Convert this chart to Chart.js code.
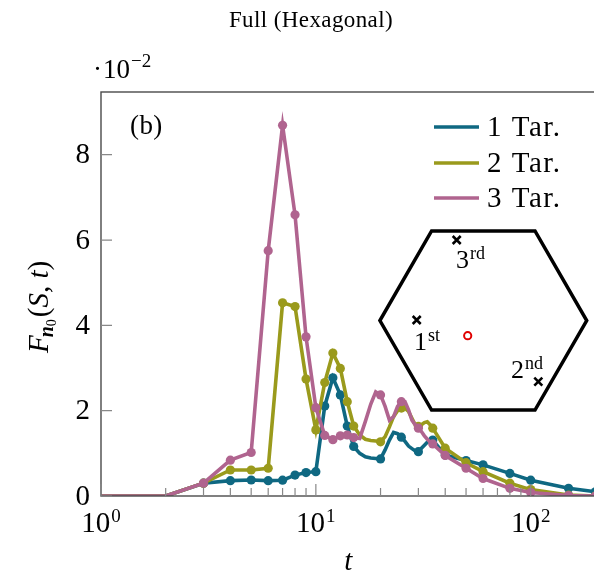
<!DOCTYPE html>
<html>
<head>
<meta charset="utf-8">
<script src="https://cdn.jsdelivr.net/npm/chart.js@4.4.0/dist/chart.umd.min.js"></script>
<style>
  html, body { margin: 0; padding: 0; background: #fff; overflow: hidden; }
  #wrap { width: 594px; height: 575px; overflow: hidden; }
</style>
</head>
<body>
<div id="wrap"><canvas id="chart" width="600" height="575"></canvas></div>
<script>
// time steps (log axis)
const tVals = [1,2,3,4,5,6,7,8,9,10,11,12,13,14,15,16,17,18,19,20,21,22,23,24,25,26,27,28,29,30,31,32,33,34,35,40,50,60,80,100,150,200];
// steps that carry a marker
const markedT = [3,4,5,6,7,8,9,10,11,12,13,14,15,20,25,30,35,40,50,60,80,100,150,200];

// values in units of 1e-2
const tar1 = [0,0,0.30,0.36,0.375,0.36,0.37,0.49,0.55,0.57,2.11,2.77,2.37,1.64,
  1.16,1.0,0.92,0.89,0.88,0.87,1.08,1.31,1.49,1.46,1.38,1.28,1.17,1.11,1.06,1.04,1.12,1.19,1.26,1.29,1.31,
  0.96,0.83,0.73,0.53,0.37,0.18,0.1];
const tar2 = [0,0,0.30,0.61,0.61,0.65,4.53,4.44,2.74,1.55,2.66,3.35,2.99,2.21,
  1.64,1.43,1.33,1.30,1.29,1.27,1.39,1.62,1.86,2.0,2.06,2.06,1.98,1.82,1.67,1.63,1.67,1.72,1.74,1.67,1.59,
  1.12,0.78,0.57,0.30,0.15,0.02,0];
const tar3 = [0,0,0.30,0.84,1.02,5.75,8.69,6.59,3.73,2.07,1.42,1.32,1.41,1.43,
  1.37,1.35,1.75,2.15,2.44,2.37,2.1,1.78,1.86,2.1,2.21,2.21,2.02,1.78,1.67,1.59,1.51,1.41,1.33,1.27,1.22,
  0.95,0.65,0.41,0.18,0.08,0.01,0];

const labels = ['1 Tar.', '2 Tar.', '3 Tar.'];
const colors = ['#0f6882', '#9a9a1c', '#b0648f'];
const yTicks = [0, 2, 4, 6, 8];
const xDecades = [0, 1, 2];

const SERIF = '"Liberation Serif", "DejaVu Serif", serif';

function series(vals, i) {
  return {
    label: labels[i],
    data: tVals.map((t, k) => ({ x: t, y: vals[k] })),
    borderColor: colors[i],
    backgroundColor: colors[i],
    borderWidth: 3.6,
    pointRadius: c => markedT.includes(tVals[c.dataIndex]) ? 4.6 : 0,
    pointBorderWidth: 0,
    tension: 0,
    order: 2 - i
  };
}

// axes decorations, ticks, labels, legend and the hexagon inset
const extras = {
  id: 'extras',
  afterDraw(chart) {
    const ctx = chart.ctx;
    const a = chart.chartArea;
    const x = chart.scales.x, y = chart.scales.y;
    ctx.save();

    // frame
    ctx.strokeStyle = '#4a4a4a';
    ctx.lineWidth = 1.4;
    ctx.strokeRect(a.left, a.top, a.right - a.left, a.bottom - a.top);

    // ticks, inward
    ctx.strokeStyle = '#888';
    ctx.lineWidth = 1.2;
    ctx.beginPath();
    yTicks.forEach(v => {
      const py = y.getPixelForValue(v);
      ctx.moveTo(a.left, py); ctx.lineTo(a.left + 11, py);
    });
    for (let d = 0; d <= 2; d++) {
      for (let m = 1; m <= 9; m++) {
        const v = m * Math.pow(10, d);
        if (v > x.max) break;
        const px = x.getPixelForValue(v);
        ctx.moveTo(px, a.bottom); ctx.lineTo(px, a.bottom - (m === 1 ? 12 : 8));
      }
    }
    ctx.stroke();

    ctx.fillStyle = '#000';
    // y tick labels
    ctx.font = '29px ' + SERIF;
    ctx.textAlign = 'right';
    ctx.textBaseline = 'middle';
    yTicks.forEach(v => ctx.fillText(String(v), 90, y.getPixelForValue(v) + 1));

    // x tick labels 10^k
    ctx.textBaseline = 'alphabetic';
    ctx.textAlign = 'left';
    xDecades.forEach(k => {
      const px = x.getPixelForValue(Math.pow(10, k));
      ctx.font = '29px ' + SERIF;
      const w1 = ctx.measureText('10').width;
      ctx.font = '19px ' + SERIF;
      const w2 = ctx.measureText(String(k)).width;
      const x0 = px - (w1 + w2 + 1) / 2;
      ctx.font = '29px ' + SERIF;
      ctx.fillText('10', x0, 532);
      ctx.font = '19px ' + SERIF;
      ctx.fillText(String(k), x0 + w1 + 1, 522);
    });

    // x axis title
    ctx.font = 'italic 29px ' + SERIF;
    ctx.textAlign = 'center';
    ctx.fillText('t', (a.left + a.right) / 2, 570);

    // scale factor
    ctx.textAlign = 'left';
    ctx.font = '27px ' + SERIF;
    ctx.fillText('\u00b7', 93, 78);
    ctx.fillText('10', 103, 78);
    ctx.font = '19px ' + SERIF;
    ctx.fillText('\u22122', 131, 67);

    // title
    ctx.font = '23px ' + SERIF;
    ctx.textAlign = 'center';
    ctx.letterSpacing = '0.4px';
    ctx.fillText('Full (Hexagonal)', 311, 27);

    // panel label
    ctx.textAlign = 'left';
    ctx.font = '27px ' + SERIF;
    ctx.fillText('(b)', 130, 134);

    // y axis title, rotated
    ctx.letterSpacing = '0px';
    ctx.save();
    ctx.translate(48, 353);
    ctx.rotate(-Math.PI / 2);
    let cx = 0;
    const piece = (txt, font, dy) => {
      ctx.font = font;
      ctx.fillText(txt, cx, dy);
      cx += ctx.measureText(txt).width;
    };
    piece('F', 'italic 29px ' + SERIF, 0);
    cx -= 2;
    piece('n', 'bold italic 20px ' + SERIF, 5);
    piece('0', '14px ' + SERIF, 8);
    cx += 2;
    piece('(', '29px ' + SERIF, 0);
    piece('S', 'italic 29px ' + SERIF, 0);
    piece(', ', '29px ' + SERIF, 0);
    piece('t', 'italic 29px ' + SERIF, 0);
    piece(')', '29px ' + SERIF, 0);
    ctx.restore();

    // legend
    const ly = [127, 163, 198];
    ctx.letterSpacing = '1.5px';
    labels.forEach((lab, i) => {
      ctx.strokeStyle = colors[i];
      ctx.lineWidth = 3.6;
      ctx.beginPath();
      ctx.moveTo(434, ly[i]); ctx.lineTo(479, ly[i]);
      ctx.stroke();
      ctx.fillStyle = '#000';
      ctx.font = '29px ' + SERIF;
      ctx.textBaseline = 'middle';
      ctx.fillText(lab, 487, ly[i] + 1);
    });
    ctx.letterSpacing = '0px';
    ctx.textBaseline = 'alphabetic';

    // hexagon inset
    const hx = 483.3, hy = 320.5, r = 103.4;
    ctx.strokeStyle = '#000';
    ctx.lineWidth = 3.5;
    ctx.lineJoin = 'miter';
    ctx.beginPath();
    for (let k = 0; k < 6; k++) {
      const ang = Math.PI / 3 * k;
      const px = hx + r * Math.cos(ang), py = hy + r * Math.sin(ang);
      if (k === 0) ctx.moveTo(px, py); else ctx.lineTo(px, py);
    }
    ctx.closePath();
    ctx.stroke();

    const cross = (px, py) => {
      ctx.lineWidth = 2.6;
      ctx.beginPath();
      ctx.moveTo(px - 4, py - 4); ctx.lineTo(px + 4, py + 4);
      ctx.moveTo(px + 4, py - 4); ctx.lineTo(px - 4, py + 4);
      ctx.stroke();
    };
    cross(hx - 26.6, hy - 80.5);
    cross(hx - 66.6, hy - 0.5);
    cross(hx + 55, hy + 61.2);

    const ord = (num, sup, px, py) => {
      ctx.font = '26px ' + SERIF;
      ctx.fillText(num, px, py);
      const w = ctx.measureText(num).width;
      ctx.font = '18px ' + SERIF;
      ctx.fillText(sup, px + w + 1, py - 9);
    };
    ctx.fillStyle = '#000';
    ord('3', 'rd', 456, 268);
    ord('1', 'st', 414, 350);
    ord('2', 'nd', 511, 378);

    ctx.strokeStyle = '#e00000';
    ctx.lineWidth = 2;
    ctx.beginPath();
    ctx.arc(hx - 15.6, hy + 15.2, 3.6, 0, Math.PI * 2);
    ctx.stroke();

    ctx.restore();
  }
};

new Chart(document.getElementById('chart'), {
  type: 'line',
  data: { datasets: [series(tar1, 0), series(tar2, 1), series(tar3, 2)] },
  options: {
    responsive: false,
    animation: false,
    devicePixelRatio: 1,
    layout: { padding: { left: 101, top: 92, right: 4, bottom: 79 } },
    scales: {
      x: {
        type: 'logarithmic', min: 1, max: 200,
        ticks: { display: false },
        grid: { display: false, drawTicks: false },
        border: { display: false }
      },
      y: {
        min: 0, max: 9.47,
        ticks: { display: false },
        grid: { display: false, drawTicks: false },
        border: { display: false }
      }
    },
    plugins: { legend: { display: false }, tooltip: { enabled: false } }
  },
  plugins: [extras]
});
</script>
</body>
</html>
